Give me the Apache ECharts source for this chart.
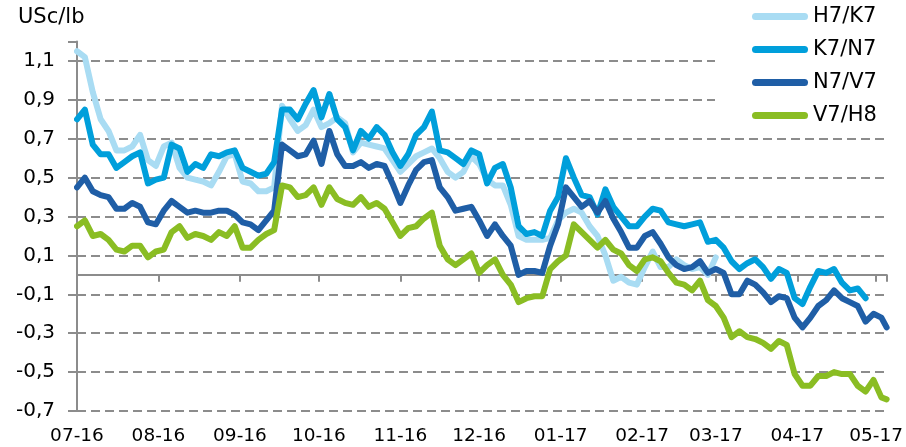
<!DOCTYPE html>
<html>
<head>
    <meta charset="utf-8">
    <title>ECharts</title>
    <script src="https://cdn.jsdelivr.net/npm/echarts@6/dist/echarts.min.js"></script>
    <style type="text/css">
    html, body { margin: 0; padding: 0; background: #fff; }
    </style>
</head>
<body>
    <div id="main" style="width: 906px;height:447px;"></div>
    <script type="text/javascript">
        // sample days: every 3 days from 1 Jul 2016, last point 5 May 2017
        var dayOffsets = [];
        for (var d = 0; d <= 306; d += 3) dayOffsets.push(d);
        dayOffsets.push(308);

        function fmtDate(t) {
            var m = t.getMonth() + 1, dd = t.getDate();
            return t.getFullYear() + '-' + (m < 10 ? '0' + m : m) + '-' + (dd < 10 ? '0' + dd : dd);
        }
        var dates = dayOffsets.map(function (d) { return fmtDate(new Date(2016, 6, 1 + d)); });

        var seriesNames = ['H7/K7', 'K7/N7', 'N7/V7', 'V7/H8'];

        // H7/K7 spread, USc/lb
        var h7k7 = [1.15,1.12,0.94,0.80,0.74,0.64,0.64,0.66,0.72,0.59,
            0.56,0.66,0.68,0.55,0.50,0.49,0.48,0.46,0.53,0.61,
            0.62,0.48,0.47,0.43,0.43,0.45,0.87,0.80,0.74,0.77,
            0.85,0.76,0.78,0.81,0.78,0.63,0.68,0.67,0.66,0.65,
            0.59,0.53,0.57,0.61,0.63,0.65,0.60,0.53,0.50,0.53,
            0.61,0.57,0.49,0.46,0.46,0.36,0.20,0.18,0.18,0.18,
            0.19,0.28,0.32,0.34,0.32,0.25,0.20,0.10,-0.03,-0.01,
            -0.04,-0.05,0.04,0.12,0.04,0.04,0.08,0.05,0.03,0.04,
            0.00,0.09];
        // K7/N7
        var k7n7 = [0.80,0.85,0.67,0.62,0.62,0.55,0.58,0.61,0.63,0.47,
            0.49,0.50,0.67,0.65,0.53,0.57,0.55,0.62,0.61,0.63,
            0.64,0.55,0.53,0.51,0.52,0.58,0.85,0.85,0.80,0.88,
            0.95,0.81,0.93,0.80,0.76,0.64,0.74,0.70,0.76,0.72,
            0.63,0.56,0.62,0.72,0.76,0.84,0.64,0.63,0.60,0.57,
            0.64,0.62,0.47,0.55,0.57,0.45,0.25,0.21,0.22,0.20,
            0.33,0.40,0.60,0.50,0.41,0.40,0.31,0.44,0.35,0.30,
            0.25,0.25,0.30,0.34,0.33,0.27,0.26,0.25,0.26,0.27,
            0.17,0.18,0.14,0.07,0.03,0.06,0.08,0.04,-0.02,0.03,
            0.01,-0.12,-0.15,-0.06,0.02,0.01,0.03,-0.04,-0.08,-0.07,
            -0.12];
        // N7/V7
        var n7v7 = [0.45,0.50,0.43,0.41,0.40,0.34,0.34,0.37,0.35,0.27,
            0.26,0.33,0.38,0.35,0.32,0.33,0.32,0.32,0.33,0.33,
            0.31,0.27,0.26,0.23,0.28,0.33,0.67,0.64,0.61,0.62,
            0.69,0.57,0.74,0.62,0.56,0.56,0.58,0.55,0.57,0.56,
            0.47,0.37,0.46,0.54,0.58,0.59,0.45,0.40,0.33,0.34,
            0.35,0.28,0.20,0.26,0.20,0.15,0.00,0.02,0.02,0.01,
            0.15,0.26,0.45,0.40,0.35,0.38,0.32,0.38,0.29,0.22,
            0.14,0.14,0.20,0.22,0.16,0.09,0.05,0.03,0.04,0.07,
            0.01,0.03,0.01,-0.10,-0.10,-0.03,-0.05,-0.09,-0.14,-0.11,
            -0.12,-0.22,-0.27,-0.22,-0.16,-0.13,-0.08,-0.12,-0.14,-0.16,
            -0.24,-0.20,-0.22,-0.27];
        // V7/H8
        var v7h8 = [0.25,0.28,0.20,0.21,0.18,0.13,0.12,0.15,0.15,0.09,
            0.12,0.13,0.22,0.25,0.19,0.21,0.20,0.18,0.22,0.20,
            0.25,0.14,0.14,0.18,0.21,0.23,0.46,0.45,0.40,0.41,
            0.45,0.36,0.45,0.39,0.37,0.36,0.40,0.35,0.37,0.34,
            0.27,0.20,0.24,0.25,0.29,0.32,0.15,0.08,0.05,0.08,
            0.11,0.01,0.05,0.08,0.00,-0.05,-0.14,-0.12,-0.11,-0.11,
            0.03,0.07,0.10,0.26,0.22,0.18,0.14,0.18,0.13,0.11,
            0.05,0.02,0.08,0.09,0.07,0.01,-0.04,-0.05,-0.08,-0.03,
            -0.13,-0.16,-0.22,-0.32,-0.29,-0.32,-0.33,-0.35,-0.38,-0.34,
            -0.36,-0.51,-0.57,-0.57,-0.52,-0.52,-0.50,-0.51,-0.51,-0.57,
            -0.60,-0.54,-0.63,-0.64];

        var colors = ['#a9dcf3', '#009fdb', '#1f5ea6', '#8abd23'];
        var allValues = [h7k7, k7n7, n7v7, v7h8];
        var font = 'DejaVu Sans';
        var grey = '#8c8c8c';

        function pairs(vals) {
            return vals.map(function (v, i) { return [dates[i], v]; });
        }

        var myChart = echarts.init(document.getElementById('main'));
        var option = {
            animation: false,
            title: {
                text: 'USc/lb',
                left: 18, top: 7, padding: 0,
                textStyle: { fontFamily: font, fontSize: 21, fontWeight: 'normal', color: '#000' }
            },
            legend: {
                data: seriesNames,
                orient: 'vertical',
                left: 715, top: 0,
                padding: [6, 30, 4, 37],
                backgroundColor: '#fff',
                itemWidth: 56, itemHeight: 7, itemGap: 12,
                icon: 'path://M3.5,0 H52.5 A3.5,3.5 0 0 1 52.5,7 H3.5 A3.5,3.5 0 0 1 3.5,0 Z',
                textStyle: { fontFamily: font, fontSize: 21, color: '#000' }
            },
            grid: { left: 77, right: 19, top: 41.5, bottom: 36 },
            xAxis: [{
                type: 'time',
                position: 'bottom',
                min: '2016-07-01', max: '2017-05-05',
                splitNumber: 10,
                axisLine: { show: false, onZero: false },
                axisTick: { show: false },
                splitLine: { show: false },
                axisLabel: {
                    margin: 16,
                    fontFamily: font, fontSize: 18.5, color: '#000',
                    formatter: function (v) {
                        var t = new Date(v);
                        if (t.getDate() !== 1) return '';
                        var m = t.getMonth() + 1;
                        return (m < 10 ? '0' + m : m) + '-' + String(t.getFullYear()).slice(2);
                    }
                }
            }, {
                type: 'time',
                position: 'top',
                min: '2016-07-01', max: '2017-05-05',
                splitNumber: 10,
                axisLine: { show: true, onZero: true, lineStyle: { color: grey, width: 2 } },
                axisTick: { show: true, inside: true, length: 7, lineStyle: { color: grey, width: 2 } },
                axisLabel: { show: false },
                splitLine: { show: false }
            }],
            yAxis: {
                type: 'value',
                min: -0.7, max: 1.2, interval: 0.2,
                axisLine: { show: true, lineStyle: { color: grey, width: 2 } },
                axisTick: { show: true, length: 9, lineStyle: { color: grey, width: 2 } },
                axisLabel: {
                    margin: 22,
                    fontFamily: font, fontSize: 20, color: '#000',
                    formatter: function (v) {
                        if (Math.abs(v - 1.2) < 1e-6) return '';
                        return v.toFixed(1).replace('.', ',');
                    }
                },
                splitLine: {
                    show: true,
                    lineStyle: {
                        type: [9, 5], width: 2,
                        color: [grey, grey, grey, grey, grey, grey, grey, grey, grey, grey, 'rgba(0,0,0,0)']
                    }
                }
            },
            series: seriesNames.map(function (name, k) {
                return {
                    name: name,
                    type: 'line',
                    xAxisIndex: 0,
                    symbol: 'none',
                    color: colors[k],
                    lineStyle: { width: 6, color: colors[k], cap: 'round', join: 'round' },
                    data: pairs(allValues[k])
                };
            })
        };
        myChart.setOption(option);
    </script>
</body>
</html>
